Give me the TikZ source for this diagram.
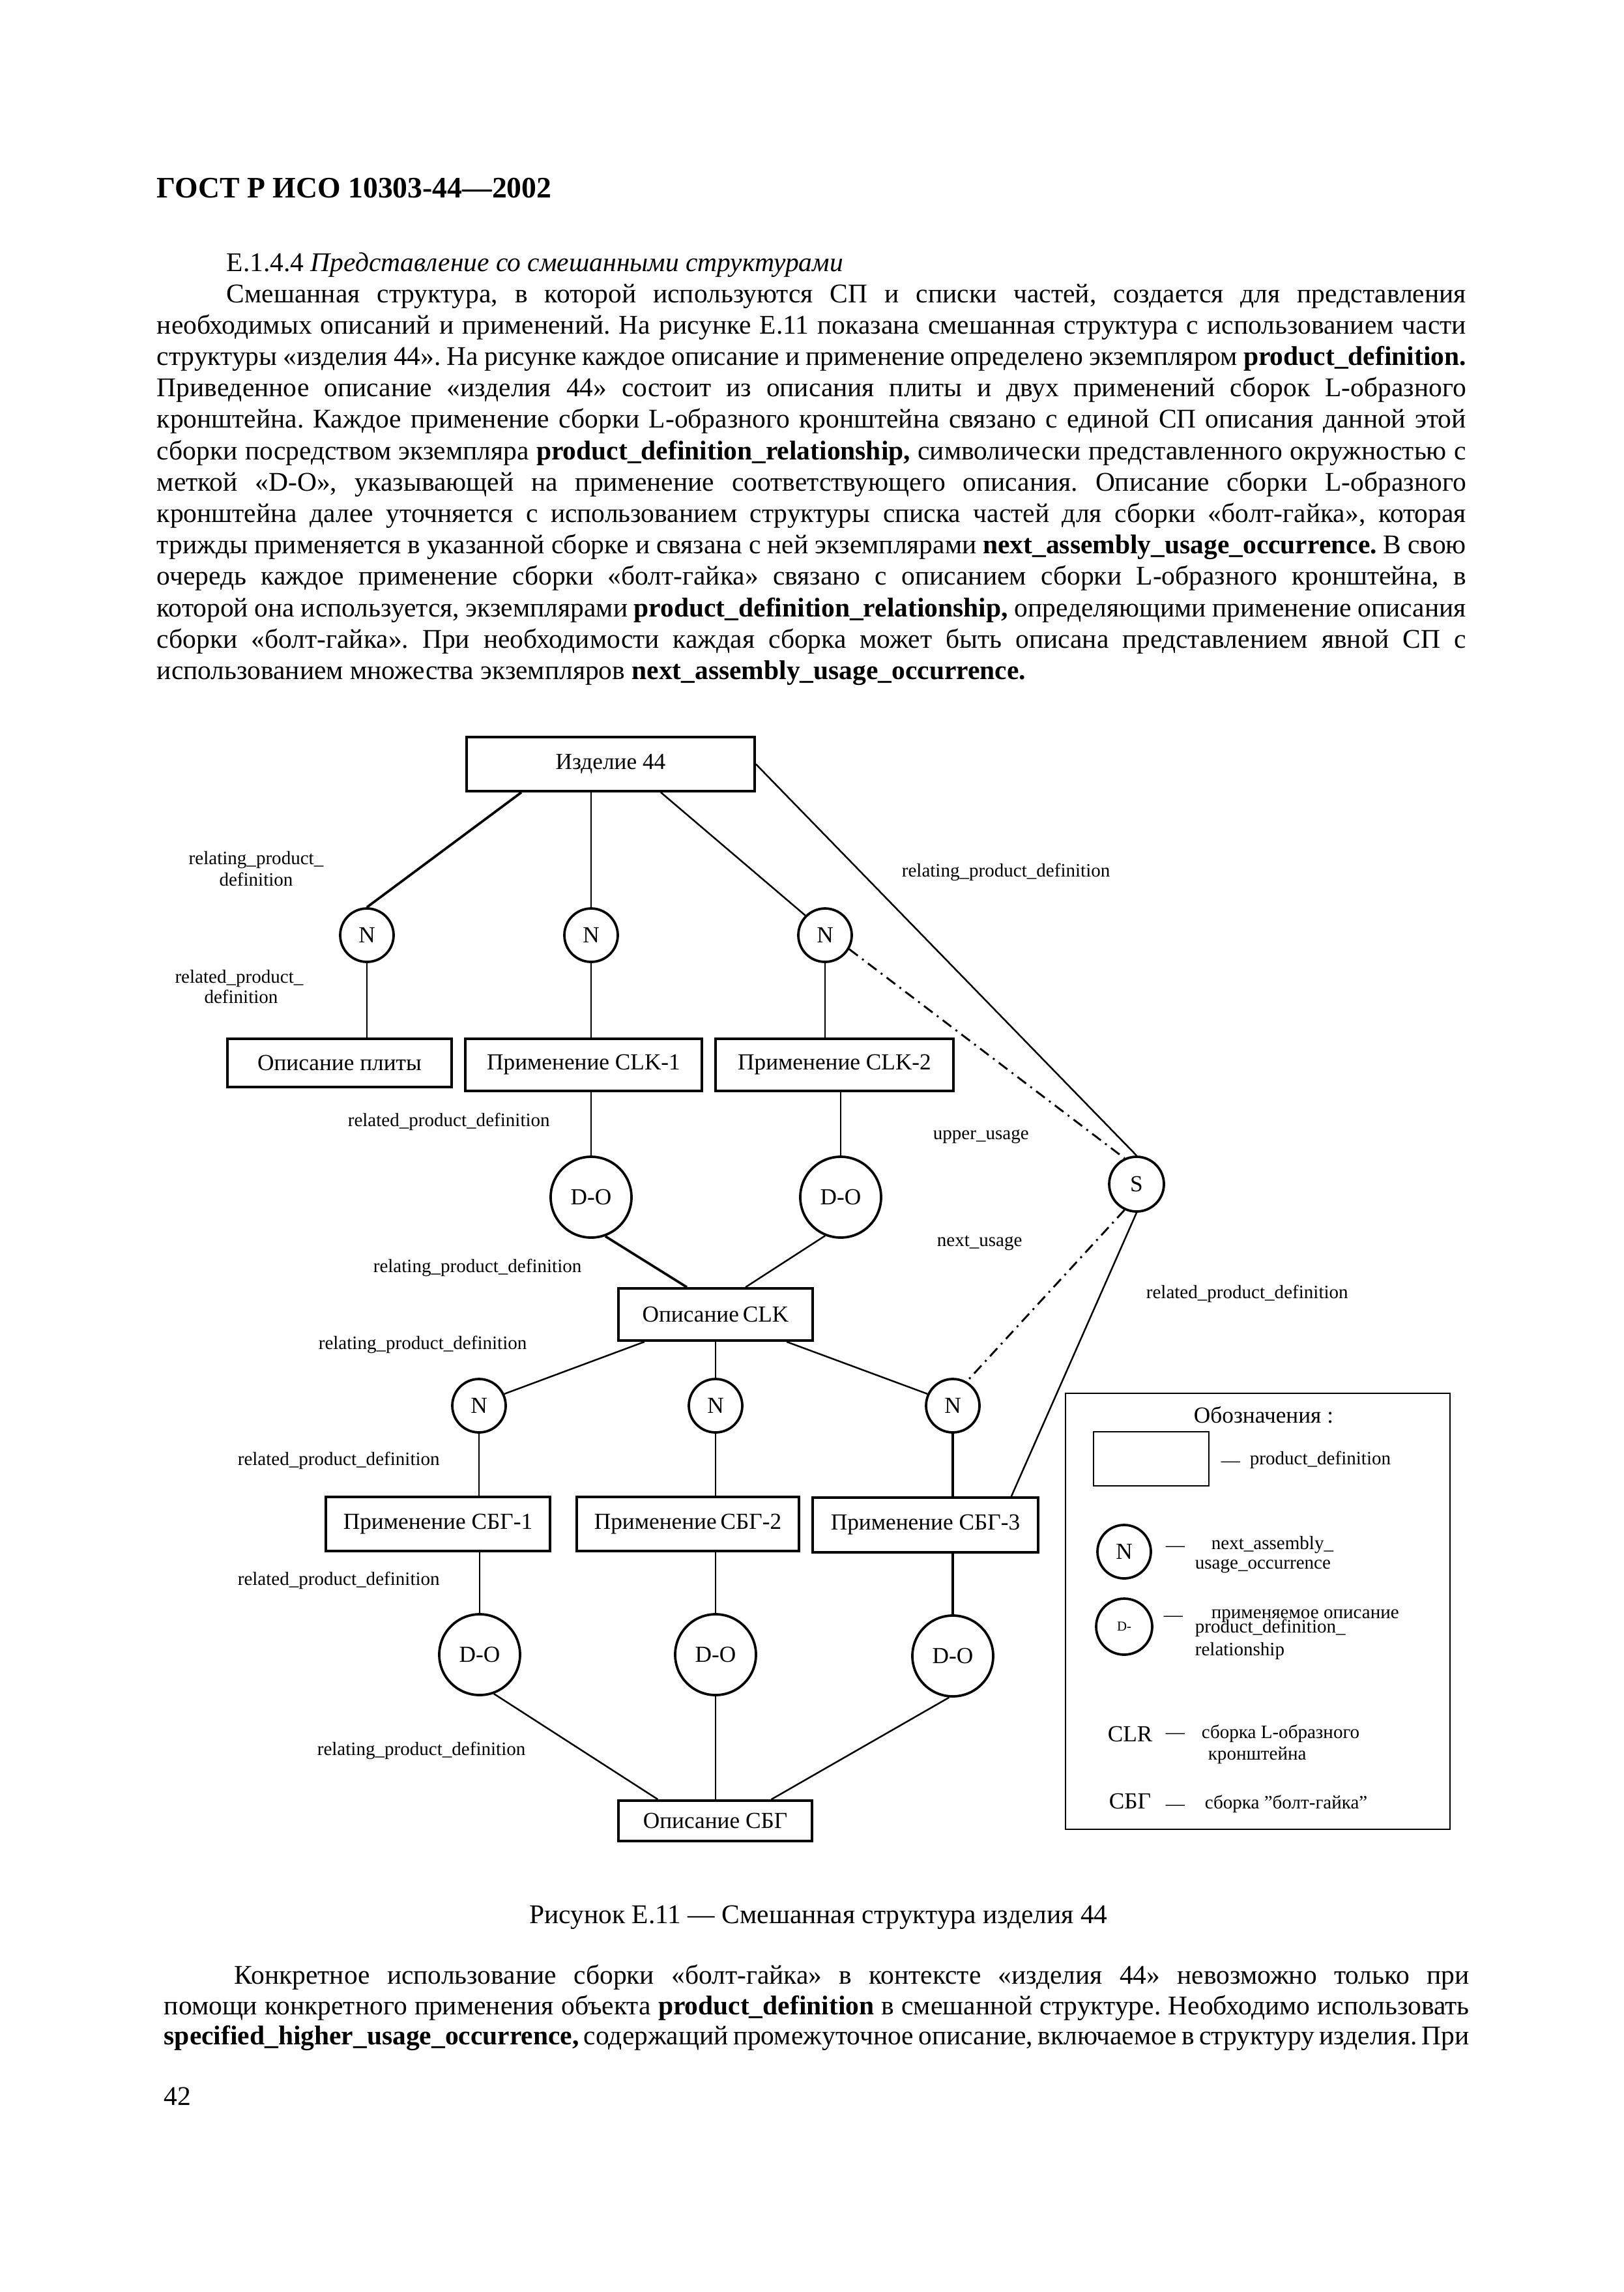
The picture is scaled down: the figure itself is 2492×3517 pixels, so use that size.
\documentclass[tikz,border=0pt]{standalone}
\usepackage{fontspec}
\setmainfont{Liberation Serif}
\usetikzlibrary{calc}
\frenchspacing
\tikzset{
  bx/.style 2 args={draw, rectangle, line width=0.9pt, inner sep=0pt,
    minimum width=#1*0.084667mm, minimum height=#2*0.084667mm,
    font=\fontsize{8.5}{10}\selectfont},
  circN/.style={draw, circle, line width=0.9pt, inner sep=0pt,
    minimum size=82*0.084667mm, font=\fontsize{8.5}{10}\selectfont},
  circD/.style={draw, circle, line width=0.9pt, inner sep=0pt,
    minimum size=124*0.084667mm, font=\fontsize{8.5}{10}\selectfont},
  lbl/.style={anchor=base west, inner sep=0pt, font=\fontsize{7}{8}\selectfont},
  lgd/.style={anchor=base west, inner sep=0pt, font=\fontsize{8.5}{10}\selectfont},
  body/.style={anchor=base west, inner sep=0pt, font=\fontsize{10}{11.5}\selectfont},
  con/.style={line width=0.6pt},
  thk/.style={line width=0.9pt},
  dd/.style={line width=0.7pt, dash pattern=on 1.4mm off 0.7mm on 0.25mm off 0.7mm}
}
\begin{document}
\begin{tikzpicture}[x=0.084667mm, y=-0.084667mm]
\useasboundingbox (0,0) rectangle (2492,3517);
\fill[white] (0,0) rectangle (2492,3517);

% ---------- header and text ----------
\node[anchor=base west, inner sep=0pt, font=\fontsize{11}{13}\selectfont\bfseries] (hdr) at (240,303) {ГОСТ Р ИСО 10303-44—2002};
\node[body] (sec) at (347,416) {Е.1.4.4 \textit{Представление со смешанными структурами}};
\node[body] (t1) at (347,464) {\makebox[161.04mm][s]{Смешанная структура, в которой используются СП и списки частей, создается для представления}};
\node[body] (t2) at (240,512.2) {\makebox[170.10mm][s]{необходимых описаний и применений. На рисунке Е.11 показана смешанная структура с использованием части}};
\node[body] (t3) at (240,560.4) {\makebox[170.10mm][s]{структуры «изделия 44». На рисунке каждое описание и применение определено экземпляром \textbf{product\_definition.}}};
\node[body] (t4) at (240,608.6) {\makebox[170.10mm][s]{Приведенное описание «изделия 44» состоит из описания плиты и двух применений сборок L-образного}};
\node[body] (t5) at (240,656.8) {\makebox[170.10mm][s]{кронштейна. Каждое применение сборки L-образного кронштейна связано с единой СП описания данной этой}};
\node[body] (t6) at (240,705) {\makebox[170.10mm][s]{сборки посредством экземпляра \textbf{product\_definition\_relationship,} символически представленного окружностью с}};
\node[body] (t7) at (240,753.2) {\makebox[170.10mm][s]{меткой «D-O», указывающей на применение соответствующего описания. Описание сборки L-образного}};
\node[body] (t8) at (240,801.4) {\makebox[170.10mm][s]{кронштейна далее уточняется с использованием структуры списка частей для сборки «болт-гайка», которая}};
\node[body] (t9) at (240,849.6) {\makebox[170.10mm][s]{трижды применяется в указанной сборке и связана с ней экземплярами \textbf{next\_assembly\_usage\_occurrence.} В свою}};
\node[body] (t10) at (240,897.8) {\makebox[170.10mm][s]{очередь каждое применение сборки «болт-гайка» связано с описанием сборки L-образного кронштейна, в}};
\node[body] (t11) at (240,946) {\makebox[170.10mm][s]{которой она используется, экземплярами \textbf{product\_definition\_relationship,} определяющими применение описания}};
\node[body] (t12) at (240,994.2) {\makebox[170.10mm][s]{сборки «болт-гайка». При необходимости каждая сборка может быть описана представлением явной СП с}};
\node[body] (t13) at (240,1042.4) {использованием множества экземпляров \textbf{next\_assembly\_usage\_occurrence.}};

% ---------- diagram nodes ----------
\node[bx={442}{83}] (izd) at (937,1172.5) {Изделие 44};
\node[circN] (n1) at (563,1435) {N};
\node[circN] (n2) at (907,1435) {N};
\node[circN] (n3) at (1266,1435) {N};
\node[bx={344}{74}] (plita) at (521,1631) {Описание плиты};
\node[bx={363}{80}] (clk1) at (895.5,1634) {Применение CLK-1};
\node[bx={365}{80}] (clk2) at (1280.5,1634) {Применение CLK-2};
\node[circD] (do1) at (907,1837) {D-O};
\node[circD] (do2) at (1290,1837) {D-O};
\node[draw, circle, line width=0.9pt, inner sep=0pt, minimum size=84*0.084667mm, font=\fontsize{8.5}{10}\selectfont] (s) at (1744,1817) {S};
\node[bx={298}{80}] (clkd) at (1098,2017) {Описание\,CLK};
\node[circN] (n4) at (735,2157) {N};
\node[circN] (n5) at (1098,2157) {N};
\node[circN] (n6) at (1462,2157) {N};
\node[bx={344}{83}] (sbg1) at (672,2338.5) {Применение СБГ-1};
\node[bx={341}{83}] (sbg2) at (1055.5,2338.5) {Применение\,СБГ-2};
\node[bx={346}{84}] (sbg3) at (1420,2340) {Применение СБГ-3};
\node[circD] (do3) at (736,2539) {D-O};
\node[circD] (do4) at (1098,2539) {D-O};
\node[circD] (do5) at (1462,2541) {D-O};
\node[bx={297}{62}] (sbgd) at (1097.5,2794) {Описание СБГ};

% ---------- connectors ----------
\draw[thk] ($(izd.south)+(-137,0)$) -- (n1.north);
\draw[con] (izd.south -| n2) -- (n2.north);
\draw[con] ($(izd.south)+(77,0)$) -- (n3.135);
\draw[con] (izd.east) -- (s.north);
\draw[con] (n1.south) -- (n1 |- plita.north);
\draw[con] (n2.south) -- (n2 |- clk1.north);
\draw[con] (n3.south) -- (n3 |- clk2.north);
\draw[dd] (n3.-30) -- (s.115);
\draw[con] (do1 |- clk1.south) -- (do1.north);
\draw[con] (do2 |- clk2.south) -- (do2.north);
\draw[thk] (do1.-70) -- ($(clkd.north)+(-44,0)$);
\draw[con] (do2.-112) -- ($(clkd.north)+(46,0)$);
\draw[con] ($(clkd.south)+(-109,0)$) -- (n4.25);
\draw[con] (clkd.south) -- (n5.north);
\draw[con] ($(clkd.south)+(109,0)$) -- (n6.155);
\draw[dd] (s.245) -- (n6.60);
\draw[con] (s.south) -- ($(sbg3.north east)+(-43,0)$);
\draw[con] (n4.south) -- (n4 |- sbg1.north);
\draw[con] (n5.south) -- (n5 |- sbg2.north);
\draw[thk] (n6.south) -- (n6 |- sbg3.north);
\draw[con] (do3 |- sbg1.south) -- (do3.north);
\draw[con] (do4 |- sbg2.south) -- (do4.north);
\draw[thk] (do5 |- sbg3.south) -- (do5.north);
\draw[con] (do3.-70) -- ($(sbgd.north)+(-88,0)$);
\draw[con] (do4.south) -- (do4 |- sbgd.north);
\draw[con] (do5.-95) -- ($(sbgd.north)+(86,0)$);

% ---------- diagram labels ----------
\node[anchor=base, inner sep=0pt, font=\fontsize{7}{8}\selectfont] (l1a) at (393,1326) {relating\_product\_};
\node[anchor=base, inner sep=0pt, font=\fontsize{7}{8}\selectfont] (l1b) at (393,1359) {definition};
\node[anchor=base, inner sep=0pt, font=\fontsize{7}{8}\selectfont] (l2a) at (367,1508) {related\_product\_};
\node[anchor=base, inner sep=0pt, font=\fontsize{7}{8}\selectfont] (l2b) at (370,1539) {definition};
\node[lbl] (l3) at (1383,1345) {relating\_product\_definition};
\node[lbl] (l4) at (533,1728) {related\_product\_definition};
\node[lbl] (l5) at (1431,1748) {upper\_usage};
\node[lbl] (l6) at (572,1952) {relating\_product\_definition};
\node[lbl] (l7) at (1437,1912) {next\_usage};
\node[lbl] (l8) at (1758,1992) {related\_product\_definition};
\node[lbl] (l9) at (488,2070) {relating\_product\_definition};
\node[lbl] (l10) at (364,2248) {related\_product\_definition};
\node[lbl] (l11) at (364,2432) {related\_product\_definition};
\node[lbl] (l12) at (486,2693) {relating\_product\_definition};

% ---------- legend ----------
\node[draw, rectangle, line width=0.7pt, inner sep=0pt, minimum width=590*0.084667mm, minimum height=669*0.084667mm] (legend) at (1930,2472.5) {};
\node[anchor=base, inner sep=0pt, font=\fontsize{8.5}{10}\selectfont] (lt) at (1939,2183) {Обозначения :};
\node[draw, rectangle, line width=0.7pt, inner sep=0pt, minimum width=177*0.084667mm, minimum height=83*0.084667mm] (lr) at (1766.5,2238.5) {};
\node[lbl] (ld1) at (1873,2250) {—};
\node[lbl] (lpd) at (1917,2247) {product\_definition};
\node[circN] (ln) at (1725,2381) {N};
\node[lbl] (ld2) at (1788,2380) {—};
\node[lbl] (lna1) at (1858,2377) {next\_assembly\_};
\node[lbl] (lna2) at (1833,2407) {usage\_occurrence};
\node[draw, circle, line width=0.9pt, inner sep=0pt, minimum size=86*0.084667mm, font=\fontsize{5}{6}\selectfont] (ldo) at (1725,2496) {D-\hspace{1.2mm}};
\node[lbl] (ld3) at (1785,2487) {—};
\node[lbl] (lp1) at (1858,2483) {применяемое описание};
\node[lbl] (lp2) at (1833,2505) {product\_definition\_};
\node[lbl] (lp3) at (1833,2540) {relationship};
\node[lgd] (lclr) at (1699,2672) {CLR};
\node[lbl] (ld4) at (1788,2667) {—};
\node[lbl] (lc1) at (1843,2667) {сборка L-образного};
\node[lbl] (lc2) at (1853,2700) {кронштейна};
\node[lgd] (lsbg) at (1701,2775) {СБГ};
\node[lbl] (ld5) at (1788,2777) {—};
\node[lbl] (ls1) at (1848,2775) {сборка \char34болт-гайка\char34};

% ---------- caption and following text ----------
\node[anchor=base, inner sep=0pt, font=\fontsize{10}{11.5}\selectfont] (cap) at (1256,2951) {Рисунок Е.11 — Смешанная структура изделия 44};
\node[body] (b1) at (359,3044) {\makebox[160.44mm][s]{Конкретное использование сборки «болт-гайка» в контексте «изделия 44» невозможно только при}};
\node[body] (b2) at (251,3091) {\makebox[169.59mm][s]{помощи конкретного применения объекта \textbf{product\_definition} в смешанной структуре. Необходимо использовать}};
\node[body] (b3) at (251,3137) {\makebox[169.59mm][s]{\textbf{specified\_higher\_usage\_occurrence,} содержащий промежуточное описание, включаемое в структуру изделия. При}};
\node[body] (pg) at (251,3230) {42};
\end{tikzpicture}
\end{document}
